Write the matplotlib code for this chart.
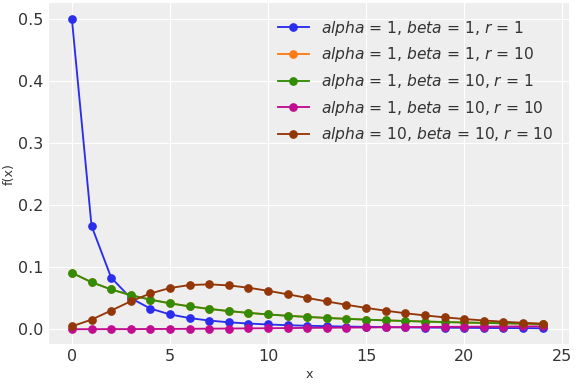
import matplotlib
matplotlib.use("Agg")
import matplotlib.pyplot as plt

x = list(range(25))

# alpha=1, beta=1, r=1
pmf_a1_b1_r1 = [0.5, 0.1667, 0.0833, 0.05, 0.0333, 0.0238, 0.0179, 0.0139, 0.0111, 0.0091,
                0.0076, 0.0064, 0.0055, 0.0048, 0.0042, 0.0037, 0.0033, 0.0029, 0.0026, 0.0024,
                0.0022, 0.0020, 0.0018, 0.0017, 0.0015]
# alpha=1, beta=1, r=10
pmf_a1_b1_r10 = [0.0909, 0.0758, 0.0641, 0.0549, 0.0476, 0.0417, 0.0368, 0.0327, 0.0292, 0.0263,
                 0.0238, 0.0216, 0.0198, 0.0181, 0.0167, 0.0154, 0.0142, 0.0132, 0.0123, 0.0115,
                 0.0108, 0.0101, 0.0095, 0.0089, 0.0084]
# alpha=1, beta=10, r=1
pmf_a1_b10_r1 = [0.0909, 0.0758, 0.0641, 0.0549, 0.0476, 0.0417, 0.0368, 0.0327, 0.0292, 0.0263,
                 0.0238, 0.0216, 0.0198, 0.0181, 0.0167, 0.0154, 0.0142, 0.0132, 0.0123, 0.0115,
                 0.0108, 0.0101, 0.0095, 0.0089, 0.0084]
# alpha=1, beta=10, r=10
pmf_a1_b10_r10 = [0.0000, 0.0000, 0.0001, 0.0001, 0.0003, 0.0004, 0.0006, 0.0008, 0.0010, 0.0013,
                  0.0015, 0.0018, 0.0021, 0.0023, 0.0026, 0.0028, 0.0031, 0.0033, 0.0035, 0.0037,
                  0.0039, 0.0041, 0.0043, 0.0044, 0.0046]
# alpha=10, beta=10, r=10
pmf_a10_b10_r10 = [0.0046, 0.0154, 0.0300, 0.0450, 0.0576, 0.0664, 0.0712, 0.0723, 0.0706, 0.0669,
                   0.0619, 0.0563, 0.0504, 0.0447, 0.0393, 0.0343, 0.0298, 0.0257, 0.0222, 0.0191,
                   0.0164, 0.0140, 0.0120, 0.0103, 0.0088]

series = [
    (pmf_a1_b1_r1, "$alpha$ = 1, $beta$ = 1, $r$ = 1"),
    (pmf_a1_b1_r10, "$alpha$ = 1, $beta$ = 1, $r$ = 10"),
    (pmf_a1_b10_r1, "$alpha$ = 1, $beta$ = 10, $r$ = 1"),
    (pmf_a1_b10_r10, "$alpha$ = 1, $beta$ = 10, $r$ = 10"),
    (pmf_a10_b10_r10, "$alpha$ = 10, $beta$ = 10, $r$ = 10"),
]
colors = ["#2a2eec", "#fa7c17", "#328c06", "#c10c90", "#933708"]

plt.rcParams["text.color"] = "#333333"
plt.rcParams["axes.labelcolor"] = "#333333"
plt.rcParams["xtick.color"] = "#333333"
plt.rcParams["ytick.color"] = "#333333"

fig, ax = plt.subplots(figsize=(6, 4), dpi=96)
fig.subplots_adjust(left=0.085, right=0.988, top=0.992, bottom=0.104)
ax.set_facecolor("#eeeeee")
for s in ax.spines.values():
    s.set_visible(False)
ax.grid(color="white", linewidth=0.9)
ax.set_axisbelow(True)
ax.tick_params(length=0, labelsize=12, pad=4)

for (vals, lab), c in zip(series, colors):
    ax.plot(x, vals, "-o", color=c, label=lab, markersize=5.5, linewidth=1.4)

ax.set_xlim(-1.17, 25.35)
ax.set_ylim(-0.024, 0.526)
ax.set_xticks([0, 5, 10, 15, 20, 25])
ax.set_yticks([0.0, 0.1, 0.2, 0.3, 0.4, 0.5])
ax.set_xlabel("x", fontsize=9.5, labelpad=3)
ax.set_ylabel("f(x)", fontsize=9.5, labelpad=2)
ax.legend(frameon=False, fontsize=11.6, loc="upper right", borderaxespad=0.6)

fig.savefig("out.png", dpi=96)
